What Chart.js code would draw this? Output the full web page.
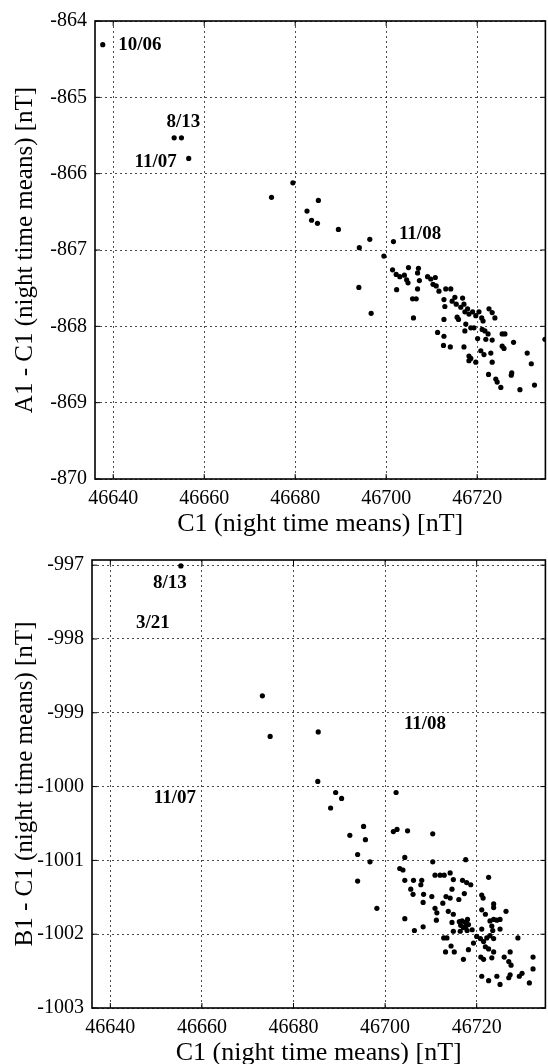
<!DOCTYPE html>
<html>
<head>
<meta charset="utf-8">
<script src="https://cdn.jsdelivr.net/npm/chart.js@4.4.0/dist/chart.umd.min.js"></script>
<style>
  html, body { margin: 0; padding: 0; background: #fff; overflow: hidden; }
  #wrap { position: relative; width: 548px; height: 1064px; }
  canvas { position: absolute; left: 0; }
</style>
</head>
<body>
<div id="wrap">
  <canvas id="chartA" width="548" height="540" style="top:0"></canvas>
  <canvas id="chartB" width="548" height="540" style="top:540px"></canvas>
</div>
<script>
// x ticks shared by both panels
const xTicks = [46640, 46660, 46680, 46700, 46720];
const topYTicks = [-870, -869, -868, -867, -866, -865, -864];
const botYTicks = [-1003, -1002, -1001, -1000, -999, -998, -997];

// upper panel: C1 vs A1 - C1
const topC1 = [
  46637.7, 46653.4, 46655.0, 46656.6, 46674.8, 46679.5, 46682.6, 46685.1, 46683.6, 46684.9,
  46689.5, 46694.1, 46696.4, 46701.6, 46699.5, 46694.0, 46696.7, 46706.0, 46701.4, 46702.2,
  46703.0, 46704.0, 46704.9, 46704.5, 46704.8, 46707.1, 46706.9, 46707.3, 46706.9, 46705.8,
  46706.6, 46702.3, 46709.1, 46709.8, 46710.8, 46710.3, 46711.0, 46711.6, 46713.1, 46714.2,
  46712.7, 46712.9, 46714.5, 46715.1, 46715.4, 46716.8, 46717.1, 46716.4, 46717.9, 46717.3,
  46718.2, 46719.0, 46719.7, 46720.4, 46721.0, 46721.3, 46722.6, 46723.3, 46723.9, 46715.6,
  46715.9, 46717.5, 46718.6, 46719.3, 46712.7, 46717.3, 46721.1, 46721.7, 46722.4, 46711.3,
  46712.7, 46712.6, 46714.1, 46717.1, 46720.1, 46721.9, 46723.3, 46725.5, 46726.1, 46725.5,
  46725.9, 46728.0, 46720.8, 46721.5, 46723.0, 46723.3, 46718.2, 46718.6, 46719.7, 46718.2,
  46731.0, 46731.9, 46734.9, 46722.5, 46724.1, 46724.4, 46725.2, 46727.6, 46727.5, 46729.4,
  46732.6
];
const topDiff = [
  -864.31, -865.53, -865.53, -865.80, -866.31, -866.12, -866.49, -866.35, -866.61, -866.65,
  -866.73, -866.97, -866.86, -866.89, -867.08, -867.49, -867.83, -867.89, -867.26, -867.32,
  -867.35, -867.33, -867.23, -867.39, -867.43, -867.24, -867.30, -867.40, -867.51, -867.64,
  -867.64, -867.52, -867.35, -867.38, -867.36, -867.45, -867.47, -867.54, -867.51, -867.51,
  -867.65, -867.74, -867.67, -867.62, -867.71, -867.63, -867.71, -867.75, -867.77, -867.81,
  -867.84, -867.81, -867.86, -867.81, -867.89, -867.93, -867.77, -867.82, -867.89, -867.88,
  -867.91, -867.97, -868.02, -868.02, -867.91, -868.06, -868.04, -868.06, -868.10, -868.08,
  -868.13, -868.25, -868.27, -868.27, -868.16, -868.17, -868.18, -868.10, -868.10, -868.26,
  -868.29, -868.21, -868.32, -868.37, -868.35, -868.47, -868.39, -868.42, -868.47, -868.45,
  -868.35, -868.49, -868.17, -868.63, -868.69, -868.73, -868.80, -868.61, -868.64, -868.83,
  -868.77
];

// lower panel: C1 vs B1 - C1
const botC1 = [
  46655.4, 46673.2, 46674.9, 46685.4, 46685.3, 46689.2, 46702.4, 46688.1, 46690.5, 46692.3,
  46695.3, 46695.7, 46694.0, 46696.7, 46694.0, 46698.2, 46701.8, 46702.6, 46704.9, 46710.4,
  46710.4, 46704.3, 46717.6, 46703.2, 46703.9, 46704.3, 46706.4, 46708.3, 46722.6, 46704.3,
  46706.2, 46708.0, 46710.9, 46712.0, 46712.9, 46714.2, 46714.9, 46716.9, 46717.8, 46718.7,
  46707.8, 46705.6, 46706.1, 46708.4, 46710.2, 46713.3, 46714.2, 46714.6, 46717.3, 46716.1,
  46708.3, 46712.6, 46721.1, 46721.4, 46723.7, 46723.7, 46710.9, 46711.3, 46713.8, 46714.9,
  46721.1, 46721.9, 46723.7, 46724.4, 46726.4, 46725.1, 46711.2, 46714.6, 46716.8, 46717.5,
  46718.2, 46717.1, 46717.9, 46716.4, 46714.9, 46719.0, 46721.1, 46722.9, 46723.3, 46723.5,
  46725.1, 46729.0, 46712.8, 46713.5, 46714.4, 46715.1, 46713.2, 46717.1, 46718.2, 46719.3,
  46720.0, 46720.8, 46721.5, 46722.2, 46722.9, 46721.9, 46722.6, 46723.7, 46723.7, 46720.9,
  46721.5, 46723.3, 46726.0, 46727.3, 46727.0, 46727.5, 46732.3, 46732.3, 46721.1, 46722.6,
  46724.4, 46725.1, 46727.0, 46727.3, 46729.3, 46729.9, 46731.5, 46716.5, 46717.6, 46718.0,
  46716.2
];
const botDiff = [
  -997.01, -998.77, -999.32, -999.26, -999.93, -1000.08, -1000.08, -1000.29, -1000.16, -1000.66,
  -1000.54, -1000.72, -1000.92, -1001.02, -1001.28, -1001.65, -1000.61, -1000.58, -1000.60, -1000.64,
  -1001.02, -1000.96, -1000.99, -1001.11, -1001.13, -1001.79, -1001.95, -1001.90, -1001.23, -1001.27,
  -1001.27, -1001.27, -1001.20, -1001.20, -1001.20, -1001.17, -1001.26, -1001.27, -1001.30, -1001.33,
  -1001.33, -1001.39, -1001.46, -1001.46, -1001.49, -1001.49, -1001.51, -1001.39, -1001.45, -1001.53,
  -1001.57, -1001.58, -1001.47, -1001.51, -1001.59, -1001.64, -1001.65, -1001.71, -1001.69, -1001.73,
  -1001.67, -1001.73, -1001.80, -1001.81, -1001.69, -1001.80, -1001.81, -1001.84, -1001.82, -1001.84,
  -1001.87, -1001.91, -1001.95, -1001.96, -1001.96, -1001.94, -1001.93, -1001.82, -1001.89, -1001.95,
  -1001.93, -1002.05, -1002.05, -1002.05, -1002.16, -1002.24, -1002.24, -1002.34, -1002.21, -1002.12,
  -1002.03, -1002.06, -1002.10, -1002.05, -1002.02, -1002.17, -1002.20, -1002.06, -1002.24, -1002.31,
  -1002.34, -1002.32, -1002.31, -1002.24, -1002.37, -1002.42, -1002.31, -1002.47, -1002.57, -1002.63,
  -1002.57, -1002.68, -1002.59, -1002.55, -1002.57, -1002.53, -1002.66, -1001.88, -1001.90, -1001.80,
  -1001.83
];

// date notes (text, C1, diff)
const topNotes = [['10/06', 46641.1, -864.31], ['8/13', 46651.7, -865.33], ['11/07', 46644.7, -865.85], ['11/08', 46702.8, -866.79]];
const botNotes = [['8/13', 46649.3, -997.24], ['3/21', 46645.6, -997.79], ['11/08', 46704.1, -999.16], ['11/07', 46649.5, -1000.16]];

Chart.defaults.font.family = "'Liberation Serif', 'Times New Roman', serif";
Chart.defaults.color = '#000';

const frame = {
  id: 'frame',
  afterDraw(chart) {
    const ctx = chart.ctx, a = chart.chartArea;
    const sx = chart.scales.x, sy = chart.scales.y;
    ctx.save();
    ctx.strokeStyle = '#000';
    ctx.lineWidth = 1;
    ctx.beginPath();
    sx.ticks.forEach(t => {
      const px = sx.getPixelForValue(t.value);
      ctx.moveTo(px, a.bottom); ctx.lineTo(px, a.bottom - 5);
      ctx.moveTo(px, a.top); ctx.lineTo(px, a.top + 5);
    });
    sy.ticks.forEach(t => {
      const py = sy.getPixelForValue(t.value);
      ctx.moveTo(a.left, py); ctx.lineTo(a.left + 5, py);
      ctx.moveTo(a.right, py); ctx.lineTo(a.right - 5, py);
    });
    ctx.stroke();
    ctx.lineWidth = 1.6;
    ctx.strokeRect(a.left, a.top, a.right - a.left, a.bottom - a.top);
    ctx.restore();
  }
};

const notes = {
  id: 'notes',
  afterDatasetsDraw(chart, args, opts) {
    const ctx = chart.ctx;
    ctx.save();
    ctx.font = "bold 19px 'Liberation Serif', serif";
    ctx.fillStyle = '#000';
    ctx.textAlign = 'left';
    ctx.textBaseline = 'middle';
    (opts.items || []).forEach(n => {
      ctx.fillText(n[0], chart.scales.x.getPixelForValue(n[1]), chart.scales.y.getPixelForValue(n[2]));
    });
    ctx.restore();
  }
};

function makePanel(id, xs, ys, yTicks, yMax, yTitle, noteList, box) {
  const pts = xs.map((x, i) => ({x: x, y: ys[i]}));
  const grid = {
    color: 'rgba(0,0,0,0.7)',
    lineWidth: 1,
    drawTicks: false
  };
  return new Chart(document.getElementById(id), {
    type: 'scatter',
    data: {
      datasets: [{
        data: pts,
        pointRadius: 2.6,
        pointHoverRadius: 2.6,
        pointBackgroundColor: '#000',
        pointBorderWidth: 0
      }]
    },
    options: {
      responsive: false,
      animation: false,
      layout: {padding: {left: 0, right: 1, top: box.top, bottom: 0}},
      plugins: {legend: {display: false}, tooltip: {enabled: false}, notes: {items: noteList}},
      scales: {
        x: {
          type: 'linear',
          min: 46636,
          max: 46735,
          afterBuildTicks: s => { s.ticks = xTicks.map(v => ({value: v})); },
          afterFit: s => { s.height = box.xh; },
          grid: Object.assign({}, grid),
          border: {display: false, dash: [2, 3]},
          ticks: {font: {size: 20}, padding: 8, maxRotation: 0, callback: v => String(v)},
          title: {display: true, text: 'C1 (night time means) [nT]', font: {size: 26}, padding: {top: 0, bottom: box.tpad}}
        },
        y: {
          type: 'linear',
          min: yTicks[0],
          max: yMax,
          afterBuildTicks: s => { s.ticks = yTicks.map(v => ({value: v})); },
          afterFit: s => { s.width = box.yw; },
          grid: Object.assign({}, grid),
          border: {display: false, dash: [2, 3]},
          ticks: {font: {size: 20}, padding: 8, callback: v => String(v)},
          title: {display: true, text: yTitle, font: {size: 25}, padding: {top: 10, bottom: 0}}
        }
      }
    },
    plugins: [frame, notes]
  });
}

makePanel('chartA', topC1, topDiff, topYTicks, -864, 'A1 - C1 (night time means) [nT]', topNotes,
  {top: 21, xh: 61, yw: 95, tpad: 0});
makePanel('chartB', botC1, botDiff, botYTicks, -996.93, 'B1 - C1 (night time means) [nT]', botNotes,
  {top: 10, xh: 72, yw: 92, tpad: 11});
</script>
</body>
</html>
